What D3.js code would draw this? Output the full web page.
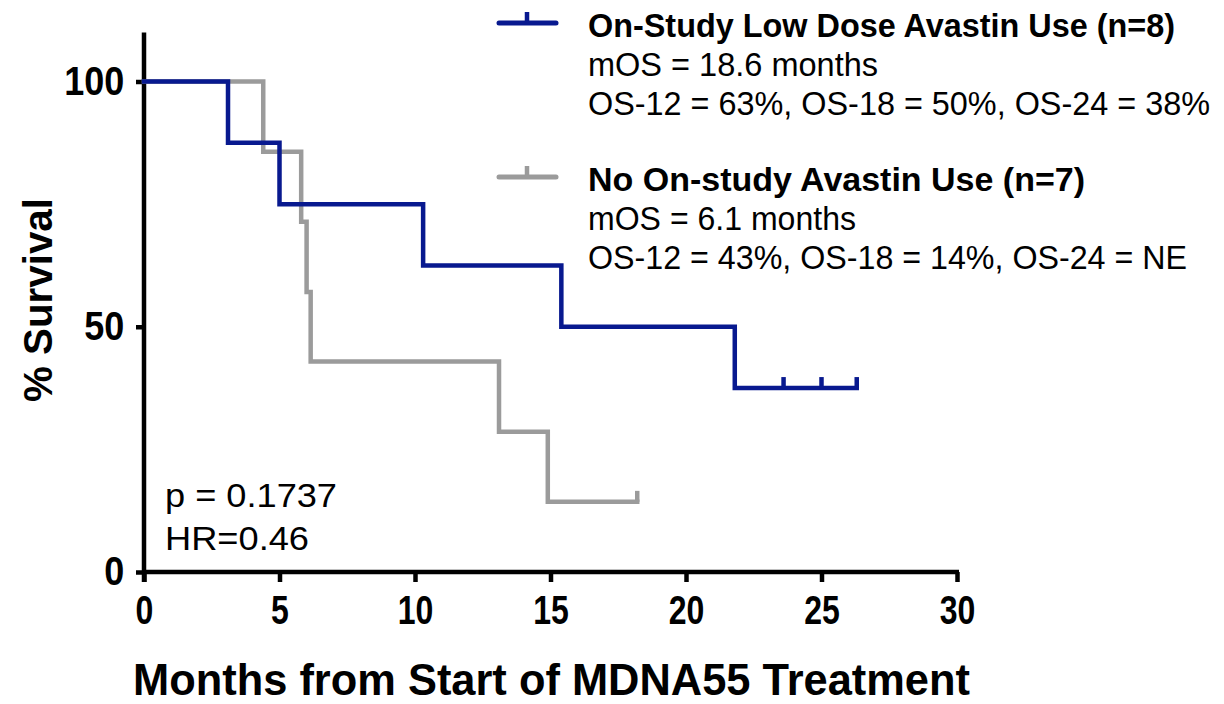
<!DOCTYPE html>
<html>
<head>
<meta charset="utf-8">
<script src="https://d3js.org/d3.v7.min.js"></script>
<style>
  body { margin: 0; background: #fff; }
  svg { display: block; font-family: "Liberation Sans", Arial, sans-serif; }
</style>
</head>
<body>
<svg id="canvas" width="1224" height="704"></svg>
<script>
"use strict"

// Kaplan-Meier steps (months, % surviving)
const lowDoseTimes = [0, 3.1, 5.0, 10.3, 15.4, 21.8, 26.3]
const lowDoseSurv = [100, 87.5, 75, 62.5, 50, 37.5, 37.5]
const lowDoseCensored = [23.6, 25.0, 26.3]

const noAvastinTimes = [0, 4.4, 5.8, 6.0, 6.15, 13.1, 14.9, 18.2]
const noAvastinSurv = [100, 85.7, 71.4, 57.1, 42.9, 28.6, 14.3, 14.3]
const noAvastinCensored = [18.2]

const xTicks = [0, 5, 10, 15, 20, 25, 30]
const yTicks = [0, 50, 100]

const legendTitles = ["On-Study Low Dose Avastin Use (n=8)", "No On-study Avastin Use (n=7)"]
const legendLines = [
  ["mOS = 18.6 months", "OS-12 = 63%, OS-18 = 50%, OS-24 = 38%"],
  ["mOS = 6.1 months", "OS-12 = 43%, OS-18 = 14%, OS-24 = NE"],
]
const statsText = ["p = 0.1737", "HR=0.46"]

const BLUE = "#08198f"
const GRAY = "#9b9b9b"

const svg = d3.select("#canvas")

const x = d3.scaleLinear().domain([0, 30]).range([144, 957])
const y = d3.scaleLinear().domain([0, 100]).range([572, 81.5])

// axes
const yAxis = d3.axisLeft(y).tickValues(yTicks).tickSize(8).tickPadding(14)
const xAxis = d3.axisBottom(x).tickValues(xTicks).tickSize(10).tickPadding(14)

const gy = svg.append("g").attr("transform", "translate(" + x(0) + ",0)").call(yAxis)
const gx = svg.append("g").attr("transform", "translate(0," + y(0) + ")").call(xAxis)

gy.select(".domain").remove()
gx.select(".domain").remove()

svg.append("line")
  .attr("x1", x(0)).attr("x2", x(0))
  .attr("y1", y(110)).attr("y2", y(0) + 10)
  .attr("stroke", "#000").attr("stroke-width", 4.5)
svg.append("line")
  .attr("x1", x(0) - 2).attr("x2", x(30) + 2)
  .attr("y1", y(0)).attr("y2", y(0))
  .attr("stroke", "#000").attr("stroke-width", 4.5)

svg.selectAll(".tick line").attr("stroke", "#000").attr("stroke-width", 4.5)
svg.selectAll(".tick text")
  .attr("fill", "#000")
  .style("font-size", "40px")
  .style("font-weight", "bold")
  .style("font-family", "'Liberation Sans', Arial, sans-serif")
gx.selectAll(".tick text").attr("transform", "scale(0.8,1)")
gy.selectAll(".tick text").attr("transform", "scale(0.9,1)")

// survival curves
const line = d3.line()
  .x(d => x(d[0]))
  .y(d => y(d[1]))
  .curve(d3.curveStepAfter)

function km(times, surv) {
  return times.map((t, i) => [t, surv[i]])
}

function survAt(times, surv, t) {
  let s = surv[0]
  times.forEach((tt, i) => { if (tt <= t) s = surv[i] })
  return s
}

const groups = [
  { times: noAvastinTimes, surv: noAvastinSurv, cens: noAvastinCensored, color: GRAY },
  { times: lowDoseTimes, surv: lowDoseSurv, cens: lowDoseCensored, color: BLUE },
]

groups.forEach(g => {
  svg.append("path")
    .datum(km(g.times, g.surv))
    .attr("d", line)
    .attr("fill", "none")
    .attr("stroke", g.color)
    .attr("stroke-width", 4.5)
    .attr("stroke-linejoin", "miter")
    .attr("stroke-linecap", "square")

  svg.append("g")
    .selectAll("line")
    .data(g.cens)
    .enter().append("line")
      .attr("x1", d => x(d)).attr("x2", d => x(d))
      .attr("y1", d => y(survAt(g.times, g.surv, d)))
      .attr("y2", d => y(survAt(g.times, g.surv, d)) - 11)
      .attr("stroke", g.color)
      .attr("stroke-width", 4.5)
})

// legend
const legendY = [23, 177]
const legendColors = [BLUE, GRAY]
const titleWidths = [587, 497]
const bodyWidths = [[290, 622], [268, 599]]

legendTitles.forEach((t, i) => {
  const ly = legendY[i]
  svg.append("line")
    .attr("x1", 499).attr("x2", 556).attr("y1", ly).attr("y2", ly)
    .attr("stroke", legendColors[i]).attr("stroke-width", 5).attr("stroke-linecap", "round")
  svg.append("line")
    .attr("x1", 527).attr("x2", 527).attr("y1", ly).attr("y2", ly - 11)
    .attr("stroke", legendColors[i]).attr("stroke-width", 4.5)

  svg.append("text")
    .attr("x", 588).attr("y", ly + 14)
    .attr("textLength", titleWidths[i]).attr("lengthAdjust", "spacingAndGlyphs")
    .style("font-size", "33px").style("font-weight", "bold")
    .text(t)

  legendLines[i].forEach((s, j) => {
    svg.append("text")
      .attr("x", 588).attr("y", ly + 53 + j * 39)
      .attr("textLength", bodyWidths[i][j]).attr("lengthAdjust", "spacingAndGlyphs")
      .style("font-size", "33px")
      .text(s)
  })
})

// stats
const statsWidths = [172, 144]
statsText.forEach((s, i) => {
  svg.append("text")
    .attr("x", 165).attr("y", 507 + i * 43)
    .attr("textLength", statsWidths[i]).attr("lengthAdjust", "spacingAndGlyphs")
    .style("font-size", "34px")
    .text(s)
})

// axis titles
svg.append("text")
  .attr("x", 133).attr("y", 695)
  .attr("textLength", 837).attr("lengthAdjust", "spacingAndGlyphs")
  .style("font-size", "44px").style("font-weight", "bold")
  .text("Months from Start of MDNA55 Treatment")

svg.append("text")
  .attr("transform", "translate(52,402) rotate(-90)")
  .attr("textLength", 204).attr("lengthAdjust", "spacingAndGlyphs")
  .style("font-size", "40px").style("font-weight", "bold")
  .text("% Survival")
</script>
</body>
</html>
